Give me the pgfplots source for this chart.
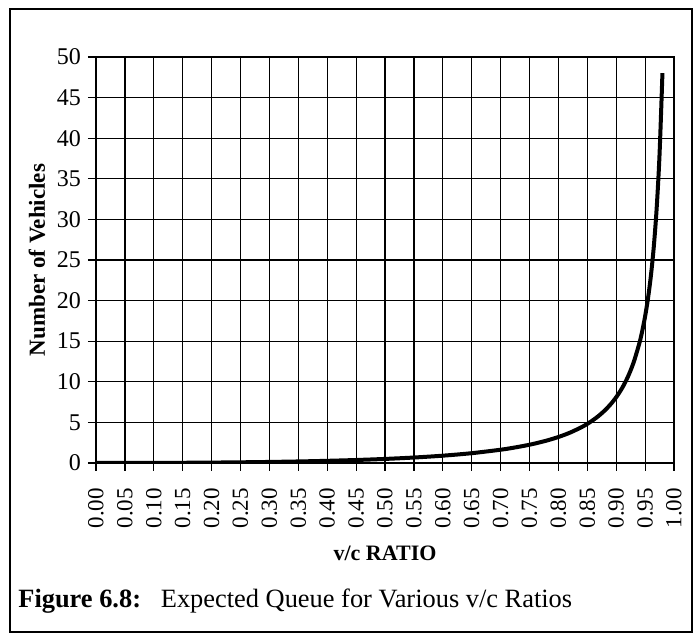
\documentclass[border=0pt]{standalone}
\usepackage{pgfplots}
\pgfplotsset{compat=1.18}
\usepackage{fontspec}
\setmainfont{Liberation Serif}

\begin{document}
\begin{tikzpicture}
  % canvas and outer frame
  \path (0pt,0pt) rectangle (348.5pt,317.5pt);
  \draw[line width=1pt] (5pt,1.5pt) rectangle (346pt,313pt);

  \begin{axis}[
    at={(48pt,86pt)}, anchor=south west,
    scale only axis,
    width=289pt, height=203pt,
    xmin=0, xmax=1, ymin=0, ymax=50,
    xtick distance=0.05, ytick distance=5,
    grid=major,
    major grid style={black, line width=0.6pt},
    axis line style={line width=0.8pt},
    tick style={black, line width=0.6pt},
    tick align=outside, major tick length=4pt,
    xtick pos=bottom, ytick pos=left,
    /pgf/number format/assume math mode=true,
    yticklabel style={font=\fontsize{12}{14}\selectfont, /pgf/number format/fixed},
    xticklabel style={rotate=90, anchor=east, font=\fontsize{11.5}{13}\selectfont,
      /pgf/number format/.cd, fixed, fixed zerofill, precision=2},
    xticklabel shift=5pt,
    xlabel={\textbf{v/c RATIO}},
    ylabel={\textbf{Number of Vehicles}},
    x label style={at={(axis description cs:0.5,-0.222)}, anchor=center, font=\fontsize{11}{13}\selectfont},
    y label style={at={(axis description cs:-0.102,0.5)}, anchor=center, font=\fontsize{11.5}{13}\selectfont},
  ]
    \addplot[black, line width=2pt, smooth] coordinates {
      (0.00, 0) (0.05, 0.0026) (0.10, 0.0111) (0.15, 0.0265)
      (0.20, 0.05) (0.25, 0.0833) (0.30, 0.1286) (0.35, 0.1885)
      (0.40, 0.2667) (0.45, 0.3682) (0.50, 0.5) (0.55, 0.6722)
      (0.60, 0.9) (0.65, 1.2071) (0.70, 1.6333) (0.72, 1.8514)
      (0.74, 2.1062) (0.75, 2.25) (0.76, 2.4067) (0.78, 2.7655)
      (0.80, 3.2) (0.82, 3.7356) (0.84, 4.41) (0.85, 4.8167)
      (0.86, 5.2829) (0.87, 5.8223) (0.88, 6.4533) (0.89, 7.2009)
      (0.90, 8.1) (0.91, 9.2011) (0.92, 10.58) (0.93, 12.3557)
      (0.94, 14.7267) (0.945, 16.237) (0.95, 18.05) (0.955, 20.267)
      (0.96, 23.04) (0.965, 26.606) (0.97, 31.3633) (0.975, 38.025)
      (0.98, 48.02)
    };
  \end{axis}

  \node[anchor=base west, inner sep=0pt, font=\fontsize{13.2}{16}\selectfont]
    at (9pt,13.5pt) {\textbf{Figure 6.8:}\hspace{0.75em}Expected Queue for Various v/c Ratios};
\end{tikzpicture}
\end{document}
